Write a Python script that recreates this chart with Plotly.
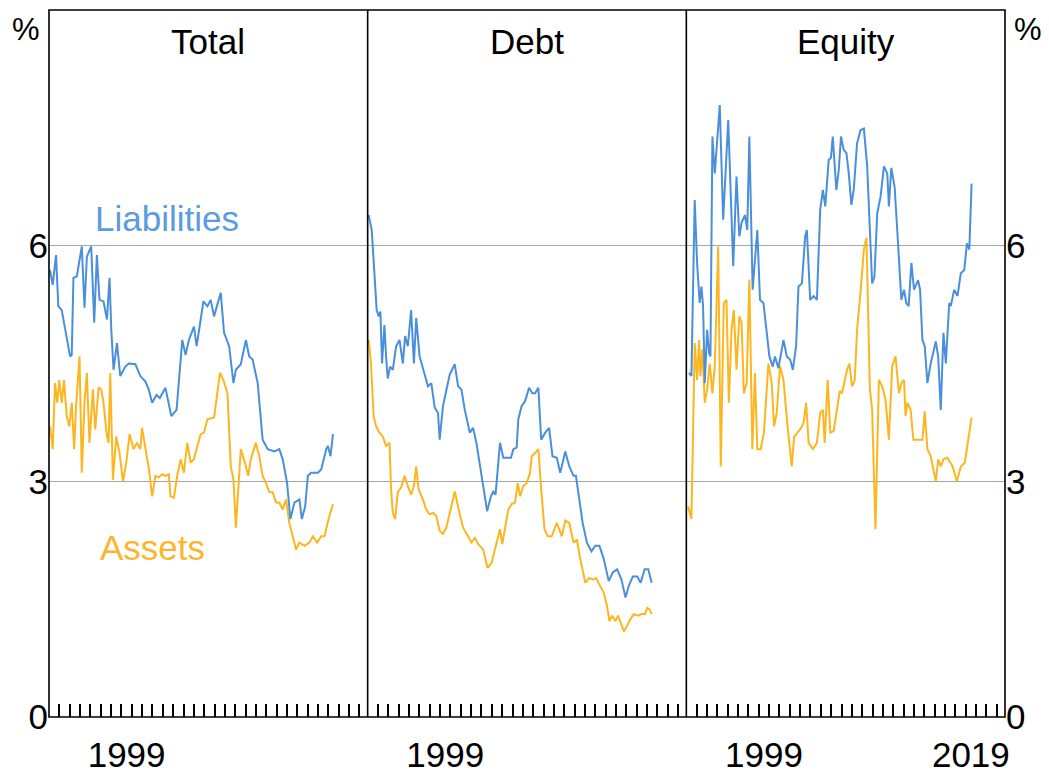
import plotly.graph_objects as go

# ---------------- data ----------------
panels = ["Total", "Debt", "Equity"]
year_labels_12 = ["1999"]
year_labels_3 = ["1999", "2019"]
y_ticks = [0, 3, 6]

total_liab_year = [1992.10, 1992.36, 1992.68, 1992.90, 1993.23, 1993.72, 1994.04, 1994.20, 1994.36, 1994.69,
                   1995.17, 1995.43, 1995.66, 1996.08, 1996.37, 1996.63, 1996.88, 1997.27, 1997.60, 1997.85,
                   1998.02, 1998.24, 1998.57, 1998.89, 1999.38, 1999.70, 2000.35, 2000.83, 2001.32, 2001.64,
                   2001.97, 2002.39, 2002.71, 2003.26, 2003.58, 2003.82, 2004.33, 2004.65, 2004.88, 2005.20,
                   2005.52, 2006.01, 2006.27, 2006.66, 2006.92, 2007.31, 2007.63, 2007.95, 2008.28, 2008.60,
                   2008.92, 2009.41, 2009.83, 2010.06, 2010.54, 2011.03, 2011.35, 2011.68, 2012.17, 2012.65,
                   2013.14, 2013.78, 2014.26, 2014.59, 2015.01, 2015.33, 2015.72, 2016.20, 2016.44, 2016.76,
                   2017.02, 2017.34, 2017.99, 2018.31, 2018.80, 2018.96, 2019.21, 2019.45]
total_liab = [5.69, 5.50, 5.88, 5.23, 5.18, 4.80, 4.59, 4.61, 5.59, 5.61,
              5.99, 5.21, 5.86, 5.99, 5.02, 5.88, 5.31, 5.29, 5.06, 5.59,
              4.93, 4.42, 4.76, 4.34, 4.46, 4.50, 4.49, 4.34, 4.27, 4.17,
              4.00, 4.10, 4.06, 4.19, 4.00, 3.83, 3.91, 4.42, 4.80, 4.61,
              4.80, 4.97, 4.72, 5.06, 5.29, 5.23, 5.31, 5.10, 5.27, 5.40,
              4.89, 4.72, 4.25, 4.42, 4.49, 4.80, 4.59, 4.55, 4.25, 3.53,
              3.41, 3.38, 3.41, 3.28, 2.98, 2.52, 2.73, 2.77, 2.52, 2.68,
              3.07, 3.11, 3.11, 3.15, 3.41, 3.45, 3.32, 3.60]

total_asset_year = [1992.10, 1992.36, 1992.58, 1992.80, 1992.99, 1993.23, 1993.45, 1993.71, 1993.96, 1994.20,
                    1994.43, 1994.62, 1994.95, 1995.17, 1995.43, 1995.66, 1995.91, 1996.24, 1996.47, 1996.79,
                    1997.05, 1997.27, 1997.60, 1997.76, 1997.92, 1998.18, 1998.50, 1998.82, 1999.15, 1999.47,
                    1999.79, 2000.18, 2000.50, 2000.83, 2000.99, 2001.41, 2001.64, 2001.97, 2002.29, 2002.61,
                    2002.94, 2003.26, 2003.58, 2003.74, 2004.07, 2004.39, 2004.72, 2005.04, 2005.36, 2005.69,
                    2006.01, 2006.34, 2006.66, 2006.98, 2007.31, 2007.95, 2008.21, 2008.53, 2008.86, 2009.25,
                    2009.57, 2009.83, 2010.06, 2010.38, 2010.54, 2010.93, 2011.25, 2011.51, 2011.99, 2012.32,
                    2012.65, 2012.97, 2013.29, 2013.62, 2013.94, 2014.26, 2014.59, 2014.91, 2015.23, 2015.56,
                    2015.88, 2016.20, 2016.69, 2017.17, 2017.50, 2017.92, 2018.31, 2018.63, 2019.02, 2019.45]
total_asset = [3.70, 3.41, 4.25, 4.00, 4.29, 4.00, 4.29, 3.83, 3.70, 4.00,
               3.41, 3.96, 4.59, 3.11, 4.00, 4.38, 3.49, 4.17, 3.66, 4.19,
               4.17, 4.00, 3.57, 3.49, 4.38, 3.02, 3.57, 3.36, 3.00, 3.24,
               3.60, 3.41, 3.49, 3.41, 3.68, 3.32, 3.17, 2.81, 3.07, 3.05,
               3.09, 3.07, 3.09, 2.81, 2.79, 3.07, 3.28, 3.11, 3.49, 3.24,
               3.28, 3.45, 3.60, 3.62, 3.79, 3.81, 4.04, 4.38, 4.29, 4.12,
               3.19, 3.02, 2.41, 3.02, 3.41, 3.24, 3.07, 3.28, 3.49, 3.32,
               3.07, 2.98, 2.86, 2.86, 2.73, 2.73, 2.64, 2.77, 2.47, 2.30,
               2.13, 2.22, 2.18, 2.22, 2.30, 2.22, 2.30, 2.30, 2.52, 2.71]

debt_liab_year = [1992.10, 1992.39, 1992.65, 1992.87, 1993.07, 1993.23, 1993.39, 1993.62, 1993.78, 1993.94,
                  1994.17, 1994.43, 1994.75, 1995.08, 1995.40, 1995.62, 1995.88, 1996.20, 1996.47, 1996.69,
                  1997.02, 1997.50, 1997.83, 1998.15, 1998.48, 1998.80, 1998.96, 1999.28, 1999.60, 1999.93,
                  2000.42, 2000.74, 2001.06, 2001.39, 2001.87, 2002.19, 2002.51, 2003.00, 2003.55, 2003.91,
                  2004.14, 2004.36, 2004.79, 2005.11, 2005.43, 2005.85, 2006.08, 2006.40, 2006.56, 2006.88,
                  2007.21, 2007.60, 2007.92, 2008.18, 2008.50, 2008.77, 2009.16, 2009.54, 2009.86, 2010.28,
                  2010.61, 2011.10, 2011.49, 2011.90, 2012.13, 2012.39, 2012.78, 2013.19, 2013.62, 2014.01,
                  2014.40, 2014.82, 2015.30, 2015.69, 2016.11, 2016.53, 2016.92, 2017.24, 2017.63, 2018.05,
                  2018.38, 2018.77, 2019.12, 2019.45]
debt_liab = [6.39, 6.20, 5.65, 5.18, 5.10, 5.16, 4.50, 4.99, 4.59, 4.31,
             4.46, 4.42, 4.72, 4.80, 4.50, 4.85, 4.72, 5.18, 4.50, 5.08,
             4.59, 4.38, 4.21, 4.25, 3.94, 3.87, 3.53, 3.96, 4.17, 4.36,
             4.49, 4.21, 4.17, 3.91, 3.62, 3.68, 3.49, 3.07, 2.62, 2.81,
             2.87, 2.83, 3.49, 3.30, 3.30, 3.30, 3.41, 3.43, 3.79, 3.96,
             4.02, 4.19, 4.12, 4.12, 4.19, 3.53, 3.62, 3.68, 3.32, 3.30,
             3.11, 3.38, 3.19, 3.07, 3.07, 2.81, 2.47, 2.22, 2.11, 2.18,
             2.18, 2.01, 1.73, 1.84, 1.88, 1.75, 1.52, 1.67, 1.79, 1.79,
             1.71, 1.88, 1.88, 1.71]

debt_asset_year = [1992.10, 1992.32, 1992.58, 1992.81, 1993.14, 1993.46, 1993.78, 1994.11, 1994.26, 1994.43,
                   1994.65, 1994.91, 1995.23, 1995.56, 1995.88, 1996.20, 1996.47, 1996.69, 1996.92, 1997.34,
                   1997.66, 1997.99, 1998.31, 1998.63, 1998.96, 1999.28, 1999.60, 1999.93, 2000.42, 2000.90,
                   2001.22, 2001.71, 2002.03, 2002.36, 2002.68, 2003.17, 2003.58, 2003.97, 2004.46, 2004.79,
                   2005.01, 2005.27, 2005.59, 2005.91, 2006.24, 2006.50, 2006.73, 2007.05, 2007.37, 2007.70,
                   2007.85, 2008.18, 2008.50, 2008.77, 2009.09, 2009.41, 2009.80, 2010.28, 2010.77, 2011.10,
                   2011.49, 2011.90, 2012.22, 2012.55, 2013.04, 2013.43, 2013.75, 2014.07, 2014.40, 2014.82,
                   2015.14, 2015.37, 2015.62, 2015.95, 2016.20, 2016.44, 2016.76, 2017.08, 2017.41, 2017.73,
                   2018.15, 2018.48, 2018.80, 2019.03, 2019.25, 2019.45]
debt_asset = [4.80, 4.50, 3.83, 3.70, 3.62, 3.57, 3.45, 3.49, 2.90, 2.60,
              2.52, 2.86, 2.92, 3.07, 2.94, 2.83, 2.94, 3.19, 2.90, 2.77,
              2.64, 2.58, 2.60, 2.56, 2.37, 2.33, 2.41, 2.60, 2.87, 2.58,
              2.41, 2.30, 2.22, 2.28, 2.20, 2.13, 1.90, 1.96, 2.22, 2.39,
              2.20, 2.41, 2.64, 2.71, 2.73, 2.98, 2.81, 2.94, 2.98, 3.11,
              3.32, 3.36, 3.41, 2.90, 2.39, 2.30, 2.30, 2.47, 2.30, 2.50,
              2.47, 2.22, 2.26, 2.01, 1.71, 1.77, 1.75, 1.77, 1.69, 1.58,
              1.41, 1.22, 1.29, 1.22, 1.29, 1.20, 1.09, 1.16, 1.25, 1.31,
              1.29, 1.31, 1.31, 1.39, 1.37, 1.31]

equity_liab_year = [1992.26, 1992.49, 1992.81, 1993.04, 1993.29, 1993.46, 1993.62, 1993.78, 1994.01, 1994.20,
                    1994.33, 1994.52, 1994.75, 1995.01, 1995.23, 1995.56, 1996.05, 1996.53, 1996.85, 1997.12,
                    1997.34, 1997.66, 1997.89, 1998.09, 1998.41, 1998.86, 1999.12, 1999.45, 1999.77, 2000.03,
                    2000.35, 2000.57, 2000.90, 2001.39, 2001.71, 2002.03, 2002.29, 2002.61, 2002.84, 2003.17,
                    2003.49, 2003.65, 2003.97, 2004.30, 2004.62, 2004.94, 2005.20, 2005.43, 2005.76, 2005.98,
                    2006.15, 2006.50, 2006.73, 2006.95, 2007.21, 2007.47, 2007.70, 2007.95, 2008.18, 2008.50,
                    2008.83, 2009.16, 2009.48, 2009.74, 2009.96, 2010.18, 2010.45, 2010.77, 2011.10, 2011.42,
                    2011.58, 2011.81, 2012.13, 2012.46, 2012.78, 2013.04, 2013.26, 2013.49, 2013.75, 2014.01,
                    2014.40, 2014.59, 2014.82, 2015.04, 2015.30, 2015.62, 2016.11, 2016.34, 2016.59, 2016.85,
                    2017.08, 2017.41, 2017.56, 2017.89, 2018.21, 2018.53, 2018.86, 2019.12, 2019.35, 2019.57]
equity_liab = [4.38, 4.34, 6.58, 5.78, 5.27, 5.48, 5.23, 4.25, 4.93, 4.63,
               4.59, 7.39, 6.92, 7.47, 7.79, 6.33, 7.60, 5.74, 6.88, 6.12,
               6.29, 6.39, 6.20, 7.39, 5.44, 6.20, 5.31, 5.27, 4.85, 4.59,
               4.46, 4.59, 4.44, 4.80, 4.59, 4.55, 4.42, 4.72, 5.48, 5.52,
               6.12, 6.20, 5.31, 5.36, 5.31, 6.46, 6.71, 6.50, 7.09, 7.12,
               7.39, 6.71, 6.96, 7.39, 7.22, 7.18, 6.92, 6.52, 6.71, 7.30,
               7.47, 7.49, 7.01, 6.12, 5.52, 5.60, 6.41, 6.62, 7.01, 6.92,
               6.50, 6.99, 6.75, 6.03, 5.31, 5.44, 5.27, 5.23, 5.78, 5.44,
               5.56, 5.44, 4.80, 4.72, 4.25, 4.50, 4.78, 4.59, 3.91, 4.89,
               4.50, 5.27, 5.23, 5.44, 5.36, 5.65, 5.69, 6.03, 5.95, 6.79]

equity_asset_year = [1992.17, 1992.49, 1992.81, 1993.04, 1993.23, 1993.36, 1993.55, 1993.78, 1994.01, 1994.26,
                     1994.52, 1994.75, 1995.08, 1995.33, 1995.62, 1995.88, 1996.11, 1996.37, 1996.59, 1996.85,
                     1997.12, 1997.34, 1997.56, 1997.83, 1998.09, 1998.38, 1998.63, 1998.86, 1999.18, 1999.50,
                     1999.93, 2000.25, 2000.48, 2000.74, 2001.06, 2001.39, 2001.78, 2002.19, 2002.42, 2002.75,
                     2003.00, 2003.33, 2003.58, 2003.82, 2004.23, 2004.62, 2004.94, 2005.20, 2005.37, 2005.66,
                     2005.91, 2006.24, 2006.56, 2006.83, 2007.05, 2007.27, 2007.53, 2007.76, 2008.02, 2008.28,
                     2008.50, 2008.83, 2009.16, 2009.41, 2009.74, 2009.96, 2010.28, 2010.61, 2010.93, 2011.25,
                     2011.58, 2011.90, 2012.22, 2012.55, 2012.78, 2013.04, 2013.19, 2013.36, 2013.68, 2013.94,
                     2014.26, 2014.50, 2014.82, 2015.04, 2015.30, 2015.62, 2016.11, 2016.34, 2016.59, 2016.85,
                     2017.24, 2017.73, 2018.15, 2018.53, 2018.92, 2019.25, 2019.57]
equity_asset = [2.68, 2.52, 4.76, 4.29, 4.80, 4.34, 4.68, 4.00, 4.17, 4.50,
                4.12, 4.47, 5.99, 3.19, 5.27, 5.31, 4.00, 4.93, 5.18, 4.42,
                5.10, 5.02, 4.12, 4.25, 5.57, 3.41, 4.38, 3.41, 3.41, 3.62,
                4.50, 4.25, 3.70, 3.87, 4.47, 4.29, 3.70, 3.19, 3.57, 3.62,
                3.66, 3.74, 4.00, 3.49, 3.41, 3.49, 3.87, 3.91, 3.49, 4.29,
                3.62, 3.64, 3.91, 4.15, 4.12, 4.25, 4.42, 4.50, 4.21, 4.29,
                4.93, 5.40, 5.95, 6.10, 4.17, 3.91, 2.39, 4.29, 4.21, 4.04,
                3.53, 4.47, 4.59, 4.12, 4.25, 4.29, 3.83, 4.00, 3.91, 3.53,
                3.53, 3.53, 3.53, 3.89, 3.41, 3.32, 3.00, 3.28, 3.19, 3.28,
                3.30, 3.19, 3.00, 3.19, 3.24, 3.53, 3.81]

# ---------------- styling ----------------
BLUE = "#4A8FDB"
ORANGE = "#FDB520"
FONT = "Liberation Sans, Arial, sans-serif"
FS = 35
X_RANGE = [1992, 2022.8]

fig = go.Figure()

series = [
    ("x", "y", total_asset_year, total_asset, ORANGE),
    ("x", "y", total_liab_year, total_liab, BLUE),
    ("x2", "y2", debt_asset_year, debt_asset, ORANGE),
    ("x2", "y2", debt_liab_year, debt_liab, BLUE),
    ("x3", "y3", equity_asset_year, equity_asset, ORANGE),
    ("x3", "y3", equity_liab_year, equity_liab, BLUE),
]
for xa, ya, xs, ys, col in series:
    fig.add_trace(go.Scatter(x=xs, y=ys, xaxis=xa, yaxis=ya, mode="lines",
                             line=dict(color=col, width=2), showlegend=False,
                             hoverinfo="skip"))

domains = [[0, 1 / 3], [1 / 3, 2 / 3], [2 / 3, 1]]
minor_years = list(range(1993, 2023))

for i in range(3):
    xname = "xaxis" if i == 0 else f"xaxis{i + 1}"
    yname = "yaxis" if i == 0 else f"yaxis{i + 1}"
    labels = year_labels_3 if i == 2 else year_labels_12
    fig.layout[xname] = dict(
        domain=domains[i], range=X_RANGE, anchor="y" if i == 0 else f"y{i + 1}",
        showgrid=False, zeroline=False, showline=False, automargin=False,
        tickmode="array", tickvals=[int(l) + 0.5 for l in labels], ticktext=labels,
        ticks="", ticklabelstandoff=14,
        tickfont=dict(family=FONT, size=FS, color="black"),
        minor=dict(tickmode="array", tickvals=minor_years, ticks="inside",
                   ticklen=13, tickwidth=1.6, tickcolor="black", showgrid=False),
        fixedrange=True,
    )
    fig.layout[yname] = dict(
        domain=[0, 1], range=[0, 9], anchor="x" if i == 0 else f"x{i + 1}",
        tickmode="array", tickvals=y_ticks, ticktext=[str(v) for v in y_ticks],
        showgrid=True, gridcolor="#A6A6A6", gridwidth=1.2, zeroline=False,
        showline=False, automargin=False,
        ticks="", showticklabels=(i != 1), side="right" if i == 2 else "left",
        tickfont=dict(family=FONT, size=FS, color="black"),
        fixedrange=True,
    )

# frame lines (panel borders and dividers)
shapes = [dict(type="rect", xref="paper", yref="paper", x0=0, x1=1, y0=0, y1=1,
               line=dict(color="black", width=1.6), layer="above")]
for d in (1 / 3, 2 / 3):
    shapes.append(dict(type="line", xref="paper", yref="paper", x0=d, x1=d, y0=0, y1=1,
                       line=dict(color="black", width=1.6), layer="above"))

annotations = []
for i, name in enumerate(panels):
    annotations.append(dict(text=name, x=(domains[i][0] + domains[i][1]) / 2, y=0.955,
                            xref="paper", yref="paper", xanchor="center", yanchor="middle",
                            showarrow=False, font=dict(family=FONT, size=FS, color="black")))
for xp in (-0.024, 1.024):
    annotations.append(dict(text="%", x=xp, y=0.973, xref="paper", yref="paper",
                            xanchor="center", yanchor="middle", showarrow=False,
                            font=dict(family=FONT, size=31, color="black")))
annotations.append(dict(text="Liabilities", x=2003.4, y=6.34, xref="x", yref="y",
                        xanchor="center", yanchor="middle", showarrow=False,
                        font=dict(family=FONT, size=FS, color="#5A9BE2")))
annotations.append(dict(text="Assets", x=2002.0, y=2.16, xref="x", yref="y",
                        xanchor="center", yanchor="middle", showarrow=False,
                        font=dict(family=FONT, size=FS, color="#FDB52B")))

# the page body adds an 8px offset, so margins are shifted to keep the plot in place
fig.update_layout(
    width=1049, height=772,
    margin=dict(l=41, r=52, t=2, b=63),
    paper_bgcolor="white", plot_bgcolor="white",
    annotations=annotations, shapes=shapes,
    showlegend=False,
)

fig.write_html("out.html")
